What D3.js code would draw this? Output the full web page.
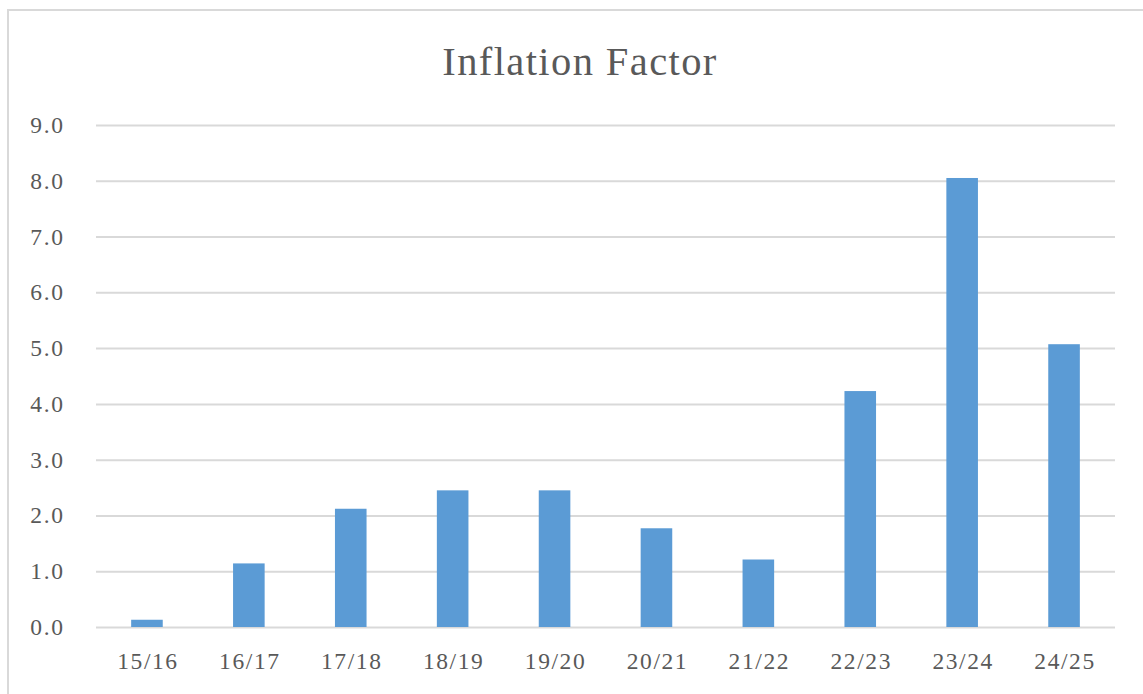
<!DOCTYPE html>
<html>
<head>
<meta charset="utf-8">
<script src="https://cdn.jsdelivr.net/npm/d3@7"></script>
<style>
  html, body { margin: 0; padding: 0; background: #fff; }
  svg { display: block; }
</style>
</head>
<body>
<svg id="chart" width="1143" height="694"></svg>
<script>
const categories = ["15/16", "16/17", "17/18", "18/19", "19/20", "20/21", "21/22", "22/23", "23/24", "24/25"];
const values = [0.13, 1.14, 2.12, 2.45, 2.45, 1.77, 1.21, 4.23, 8.05, 5.07];
const yTicks = [0, 1, 2, 3, 4, 5, 6, 7, 8, 9];
const title = "Inflation Factor";

const svg = d3.select("#chart");
const W = 1143, H = 694;
const margin = { left: 96, right: 28, top: 125, bottom: 67 };

// chart border
svg.append("rect")
  .attr("x", 8).attr("y", 10)
  .attr("width", W + 20).attr("height", H + 20)
  .attr("fill", "#fff")
  .attr("stroke", "#d9d9d9").attr("stroke-width", 2);

const x = d3.scaleBand()
  .domain(categories)
  .range([margin.left, W - margin.right])
  .paddingInner(0.69).paddingOuter(0.345);

const y = d3.scaleLinear()
  .domain([0, 9])
  .range([H - margin.bottom, margin.top]);

const font = "'Liberation Serif', 'Times New Roman', serif";

// gridlines
const grid = svg.append("g")
  .attr("transform", `translate(${margin.left},0)`)
  .call(d3.axisLeft(y).tickValues(yTicks).tickSize(-(W - margin.left - margin.right)).tickFormat(""));
grid.select(".domain").remove();
grid.selectAll("line").attr("stroke", "#d9d9d9").attr("stroke-width", 2);

// y labels
const yAxis = svg.append("g")
  .attr("transform", `translate(${margin.left - 31.5},0)`)
  .call(d3.axisLeft(y).tickValues(yTicks).tickSize(0).tickPadding(0).tickFormat(d3.format(".1f")));
yAxis.select(".domain").remove();
yAxis.selectAll("text")
  .attr("fill", "#595959")
  .style("font-family", font)
  .style("font-size", "23.5px")
  .style("letter-spacing", "1.6px");

// bars
svg.append("g").selectAll("rect")
  .data(categories.map((c, i) => ({ c, v: values[i] })))
  .join("rect")
  .attr("x", d => x(d.c))
  .attr("width", x.bandwidth())
  .attr("y", d => y(d.v))
  .attr("height", d => y(0) - y(d.v))
  .attr("fill", "#5b9bd5");

// x labels
const xAxis = svg.append("g")
  .attr("transform", `translate(0,${H - margin.bottom})`)
  .call(d3.axisBottom(x).tickSize(0).tickPadding(25.5));
xAxis.select(".domain").remove();
xAxis.selectAll("text")
  .attr("fill", "#595959")
  .attr("dx", "1px")
  .style("font-family", font)
  .style("font-size", "23.5px")
  .style("letter-spacing", "1.6px");

// title
svg.append("text")
  .attr("x", 580).attr("y", 74.5)
  .attr("text-anchor", "middle")
  .attr("fill", "#595959")
  .style("font-family", font)
  .style("font-size", "40.5px")
  .style("letter-spacing", "1.4px")
  .text(title);
</script>
</body>
</html>
